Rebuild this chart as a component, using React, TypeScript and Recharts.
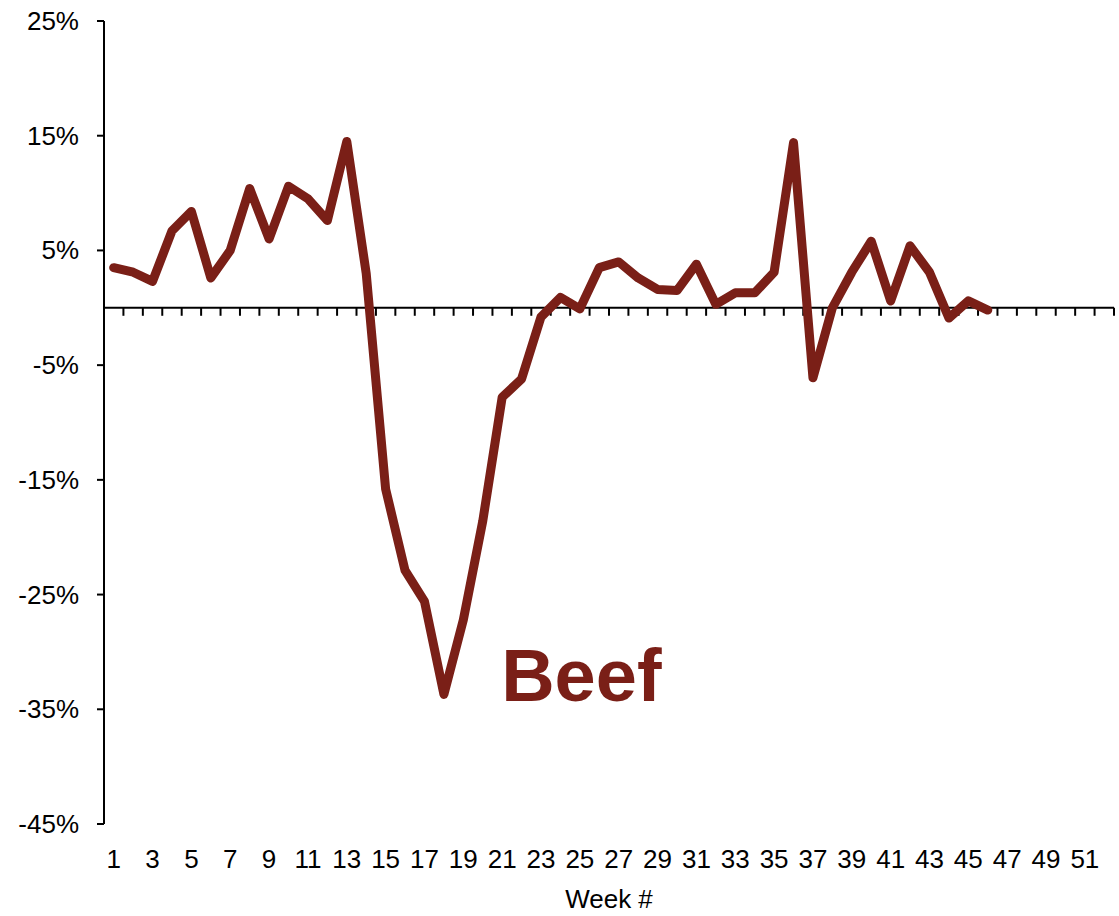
import { LineChart, Line, XAxis, YAxis, ReferenceLine, ReferenceDot } from 'recharts'

const weeks = Array.from({ length: 52 }, (_, i) => i + 1)

// weekly change in %, weeks 1..46 (no data after week 46)
const beef = [
  3.5, 3.1, 2.3, 6.7, 8.4, 2.6, 5.0, 10.4, 6.0, 10.6,
  9.5, 7.6, 14.5, 3.0, -15.8, -22.9, -25.6, -33.7, -27.2, -18.6,
  -7.8, -6.2, -0.8, 0.9, -0.1, 3.5, 4.0, 2.6, 1.6, 1.5,
  3.8, 0.3, 1.3, 1.3, 3.1, 14.4, -6.1, 0.0, 3.1, 5.8,
  0.6, 5.4, 3.1, -0.9, 0.6, -0.2,
]

const yTicks = [-45, -35, -25, -15, -5, 5, 15, 25]

const data = weeks.map((w, i) => ({ week: w, beef: i < beef.length ? beef[i] : null }))

const FONT = 'Arial, "Liberation Sans", sans-serif'
const RED = '#7a1f17'
const HALF_BAND = 9.7

function WeekTick({ x, y, payload }: any) {
  return (
    <text x={x} y={y + 44} textAnchor="middle" fontSize={26} fontFamily={FONT} fill="#000">
      {payload.value}
    </text>
  )
}

function PctTick({ x, y, payload }: any) {
  return (
    <text x={x - 18} y={y + 9} textAnchor="end" fontSize={26} fontFamily={FONT} fill="#000">
      {`${payload.value}%`}
    </text>
  )
}

// zero line across the plot with small tick marks between weeks
function ZeroLine(props: any) {
  const { x1, y1, x2 } = props
  const step = (x2 - x1) / weeks.length
  return (
    <g>
      <line x1={x1} y1={y1} x2={x2} y2={y1} stroke="#000" strokeWidth={2} />
      {weeks.map((w) => (
        <line key={w} x1={x1 + w * step} y1={y1} x2={x1 + w * step} y2={y1 + 8} stroke="#000" strokeWidth={2} />
      ))}
    </g>
  )
}

function BeefLabel({ viewBox }: any) {
  return (
    <text x={viewBox.x - 1} y={viewBox.y + 3} fontSize={74} fontWeight="bold" fontFamily={FONT} fill={RED}>
      Beef
    </text>
  )
}

export default function App() {
  return (
    <div style={{ position: 'absolute', left: 0, top: 0, background: '#fff' }}>
      <LineChart width={1119} height={916} data={data} margin={{ top: 21, right: 5, left: 0, bottom: 0 }}>
        <XAxis
          dataKey="week"
          height={92}
          interval={1}
          padding={{ left: HALF_BAND, right: HALF_BAND }}
          axisLine={false}
          tickLine={false}
          tickSize={0}
          tickMargin={0}
          tick={<WeekTick />}
          label={{ value: 'Week #', position: 'insideBottom', offset: 8, fontSize: 26, fontFamily: FONT, fill: '#000' }}
        />
        <YAxis
          width={104}
          domain={[-45, 25]}
          ticks={yTicks}
          interval={0}
          axisLine={{ stroke: '#000', strokeWidth: 2 }}
          tickLine={{ stroke: '#000', strokeWidth: 2 }}
          tickSize={7}
          tickMargin={0}
          tick={<PctTick />}
        />
        <ReferenceLine y={0} shape={ZeroLine} />
        <Line
          dataKey="beef"
          stroke={RED}
          strokeWidth={9}
          strokeLinecap="round"
          strokeLinejoin="round"
          dot={false}
          activeDot={false}
          isAnimationActive={false}
        />
        <ReferenceDot x={21} y={-34} r={0} stroke="none" fill="none" label={<BeefLabel />} />
      </LineChart>
    </div>
  )
}
